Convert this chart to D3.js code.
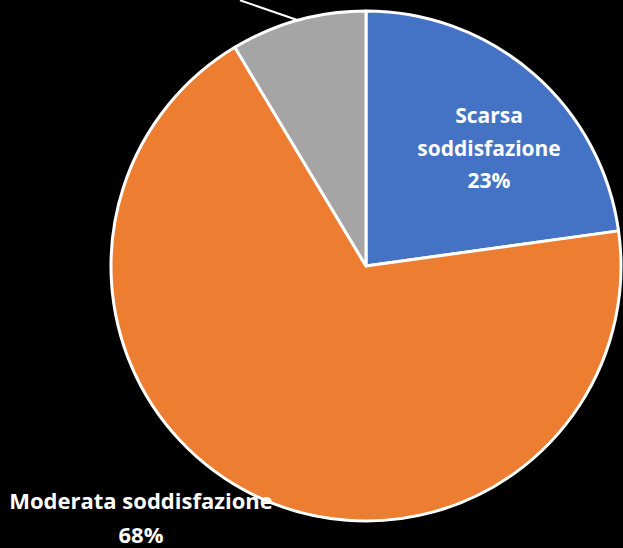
<!DOCTYPE html>
<html><head><meta charset="utf-8">
<script src="https://cdn.jsdelivr.net/npm/d3@7"></script>
<style>html,body{margin:0;padding:0;background:#000;}svg{display:block;}</style>
</head><body>
<script>
const categories = ["Scarsa soddisfazione", "Moderata soddisfazione", "Alta soddisfazione"];
const values = [22.8, 68.6, 8.6];
const colors = ["#4472C4", "#ED7D31", "#A5A5A5"];
const labels = [["Scarsa", "soddisfazione", "23%"], ["Moderata soddisfazione", "68%"], []];

const W = 623, H = 548, cx = 366, cy = 266, R = 255;
const svg = d3.select("body").append("svg").attr("width", W).attr("height", H).style("background", "#000");
const g = svg.append("g").attr("transform", `translate(${cx},${cy})`);
const pie = d3.pie().sort(null).value(d => d)(values);
const arc = d3.arc().innerRadius(0).outerRadius(R);
g.selectAll("path").data(pie).join("path")
  .attr("d", arc).attr("fill", (d, i) => colors[i])
  .attr("stroke", "#fff").attr("stroke-width", 3).attr("stroke-linejoin", "round");

// leader line for gray slice (label off-canvas)
const gs = pie[2];
const mid = (gs.startAngle + gs.endAngle) / 2;
const p0 = [Math.sin(mid) * R, -Math.cos(mid) * R];
g.append("line").attr("x1", p0[0]).attr("y1", p0[1])
  .attr("x2", p0[0] - 58).attr("y2", p0[1] - 20)
  .attr("stroke", "#fff").attr("stroke-width", 2);

const font = "Open Sans, Lato, sans-serif";
const bl = svg.append("text").attr("font-family", font).attr("font-weight", "bold")
  .attr("font-size", 21).attr("fill", "#fff").attr("text-anchor", "middle");
labels[0].forEach((t, i) => bl.append("tspan").attr("x", 489).attr("y", 123 + i * 32.5).text(t));
const ol = svg.append("text").attr("font-family", font).attr("font-weight", "bold")
  .attr("font-size", 22).attr("fill", "#fff").attr("text-anchor", "middle");
labels[1].forEach((t, i) => ol.append("tspan").attr("x", 141).attr("y", 509 + i * 34).text(t));
</script>
</body></html>
